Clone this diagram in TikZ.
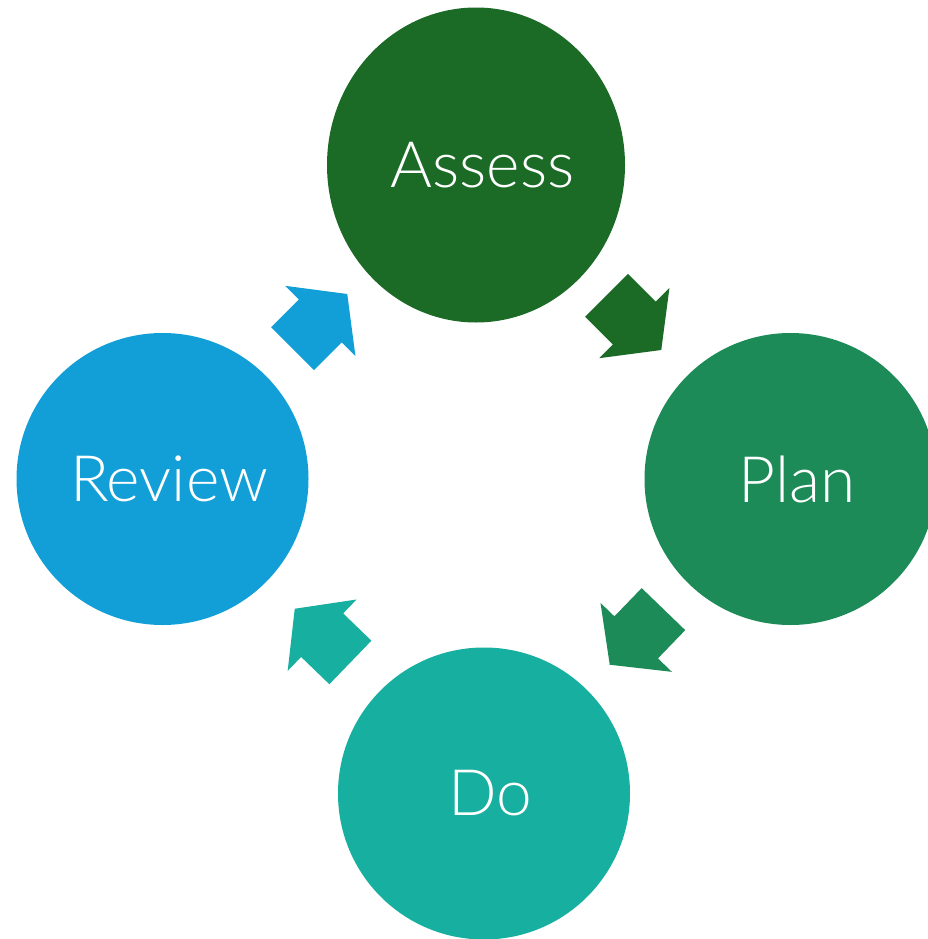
\documentclass[tikz,border=0pt]{standalone}
\usepackage{fontspec}
\setmainfont{Lato}[UprightFont=* Light]
\usetikzlibrary{shapes.geometric,shapes.arrows,calc}

\definecolor{assessgreen}{RGB}{27,106,38}
\definecolor{plangreen}{RGB}{28,139,87}
\definecolor{doteal}{RGB}{23,175,159}
\definecolor{reviewblue}{RGB}{18,159,215}

\tikzset{
  stage/.style={circle, minimum size=219pt, inner sep=0pt, text=white, font=\fontsize{48}{52}\selectfont},
  blockarrow/.style={single arrow, inner sep=0pt, text height=45pt, text depth=0pt, minimum width=0pt, minimum height=58pt, single arrow head extend=14.5pt, single arrow tip angle=105},
}

\begin{document}
\begin{tikzpicture}[x=0.75pt,y=0.75pt,yscale=-1,xscale=1]
            \useasboundingbox (0,0) rectangle (928,939);

            %Shape: Ellipse [id:assess]
            \node [stage, ellipse, minimum width=223.5pt, minimum height=236.25pt, fill=assessgreen] (assess) at (476,165) {\hspace*{10pt}Assess};
            %Shape: Circle [id:plan]
            \node [stage, fill=plangreen] (plan) at (790.5,479) {\hspace*{10pt}Plan};
            %Shape: Circle [id:do]
            \node [stage, fill=doteal] (do) at (484,793.5) {\hspace*{10pt}Do};
            %Shape: Circle [id:review]
            \node [stage, fill=reviewblue] (review) at (162.5,479) {\hspace*{10pt}Review};

            %Block Arrows
            \node [blockarrow, fill=assessgreen, rotate=-45, xshift=-8pt] (a1) at ($(assess)!0.5!(plan)$) {};
            \node [blockarrow, fill=plangreen, rotate=-134, xshift=-8pt] (a2) at ($(plan)!0.5!(do)$) {};
            \node [blockarrow, fill=doteal, rotate=136, xshift=-8pt] (a3) at ($(do)!0.5!(review)$) {};
            \node [blockarrow, fill=reviewblue, rotate=45, xshift=-8pt] (a4) at ($(review)!0.5!(assess)$) {};

\end{tikzpicture}
\end{document}
